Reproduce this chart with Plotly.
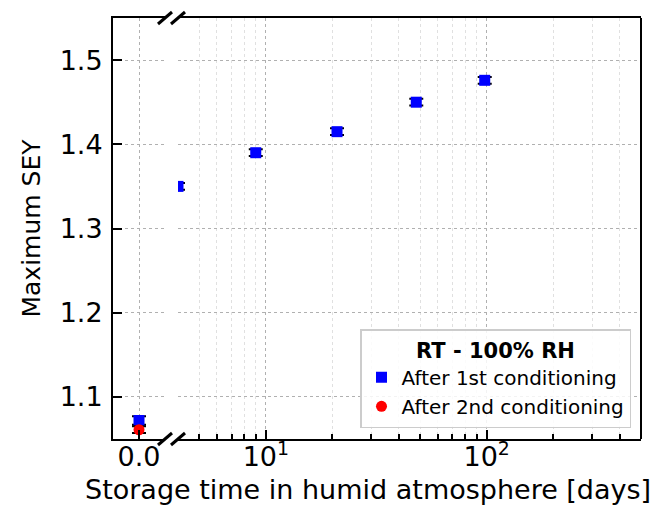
import plotly.graph_objects as go

# ---- data ----
days_zero = [0]
days_humid = [4, 9, 21, 48, 98]
sey_1st_zero = [1.072]
sey_1st_err_zero = [0.005]
sey_1st_humid = [1.350, 1.390, 1.415, 1.450, 1.476]
sey_1st_err_humid = [0.004, 0.004, 0.004, 0.004, 0.004]
sey_2nd_zero = [1.061]
sey_2nd_err_zero = [0.004]

x_ticks_left = [0]
x_ticklabels_left = ["0.0"]
x_ticks_right = [10, 100]
x_ticklabels_right = ["10<sup>1</sup>", "10<sup>2</sup>"]
x_minor_right = [4, 5, 6, 7, 8, 9, 20, 30, 40, 50, 60, 70, 80, 90, 200, 300, 400, 500]
y_ticks = [1.1, 1.2, 1.3, 1.4, 1.5]

FONT = "DejaVu Sans"
W, H = 658, 505
ML, MR, MT, MB = 113, 17, 18, 66
PW, PH = W - ML - MR, H - MT - MB
left_end = (165 - ML) / PW
right_start = (178 - ML) / PW
TICKSIZE = 27

err_style = dict(type="data", color="black", thickness=2, width=7, visible=True)

fig = go.Figure()
fig.add_trace(go.Scatter(
    x=days_zero, y=sey_1st_zero, mode="markers", xaxis="x", yaxis="y",
    marker=dict(symbol="square", color="blue", size=11),
    error_y=dict(array=sey_1st_err_zero, **err_style),
    name="After 1st conditioning"))
fig.add_trace(go.Scatter(
    x=days_humid, y=sey_1st_humid, mode="markers", xaxis="x2", yaxis="y",
    marker=dict(symbol="square", color="blue", size=11),
    error_y=dict(array=sey_1st_err_humid, **err_style),
    name="After 1st conditioning", showlegend=False))
fig.add_trace(go.Scatter(
    x=days_zero, y=sey_2nd_zero, mode="markers", xaxis="x", yaxis="y",
    marker=dict(symbol="circle", color="red", size=11),
    error_y=dict(array=sey_2nd_err_zero, **err_style),
    name="After 2nd conditioning"))

grid_major = dict(showgrid=True, gridcolor="#b0b0b0", griddash="dot", gridwidth=1)

fig.update_layout(
    width=W, height=H, margin=dict(l=ML, r=MR, t=MT, b=MB),
    paper_bgcolor="white", plot_bgcolor="white",
    font=dict(family=FONT, size=TICKSIZE, color="black"),
    xaxis=dict(domain=[0, left_end], range=[-1, 1], anchor="y",
               tickvals=x_ticks_left, ticktext=x_ticklabels_left,
               ticks="inside", ticklen=9, tickwidth=2, tickcolor="black",
               showline=True, linecolor="black", linewidth=2, mirror=True,
               zeroline=False, tickfont=dict(size=TICKSIZE), ticklabelstandoff=-7,
               **grid_major),
    xaxis2=dict(domain=[right_start, 1], type="log", range=[0.60206, 2.69897], anchor="y",
                tickvals=x_ticks_right, ticktext=x_ticklabels_right,
                ticks="inside", ticklen=9, tickwidth=2, tickcolor="black",
                showline=True, linecolor="black", linewidth=2, mirror=True,
                zeroline=False, tickfont=dict(size=TICKSIZE), ticklabelstandoff=-7,
                **grid_major,
                minor=dict(tickvals=x_minor_right, ticks="inside", ticklen=5, tickwidth=1.5,
                           tickcolor="black", showgrid=True, gridcolor="#e0e0e0",
                           griddash="dot", gridwidth=1)),
    yaxis=dict(domain=[0, 1], range=[1.05, 1.55], anchor="x",
               tickvals=y_ticks, tickformat=".1f",
               ticks="inside", ticklen=9, tickwidth=2, tickcolor="black",
               showline=True, linecolor="black", linewidth=2,
               zeroline=False, tickfont=dict(size=TICKSIZE), ticklabelstandoff=3,
               **grid_major,
               title=dict(text="Maximum SEY", font=dict(size=25), standoff=12)),
    legend=dict(x=(631 - ML) / PW, y=(439 - 428) / PH, xanchor="right", yanchor="bottom",
                bgcolor="rgba(255,255,255,0.85)", bordercolor="#cccccc", borderwidth=1.5,
                font=dict(size=20), tracegroupgap=0,
                title=dict(text="<b>RT - 100% RH</b>", side="top center", font=dict(size=21))),
    showlegend=True,
)

# x axis title spanning the whole broken axis
fig.add_annotation(text="Storage time in humid atmosphere [days]", xref="paper", yref="paper",
                   x=(368 - ML) / PW, y=-(489 - 439) / PH, showarrow=False,
                   font=dict(size=27), xanchor="center", yanchor="middle")

# right spine
fig.add_shape(type="line", xref="paper", yref="paper", x0=1, x1=1, y0=0, y1=1,
              line=dict(color="black", width=2))
# break marks
for xa in (left_end, right_start):
    for ya in (0, 1):
        fig.add_shape(type="line", xref="paper", yref="paper",
                      xsizemode="pixel", ysizemode="pixel", xanchor=xa, yanchor=ya,
                      x0=-7, x1=7, y0=-6, y1=6, line=dict(color="black", width=3))

fig.write_html("out.html")
